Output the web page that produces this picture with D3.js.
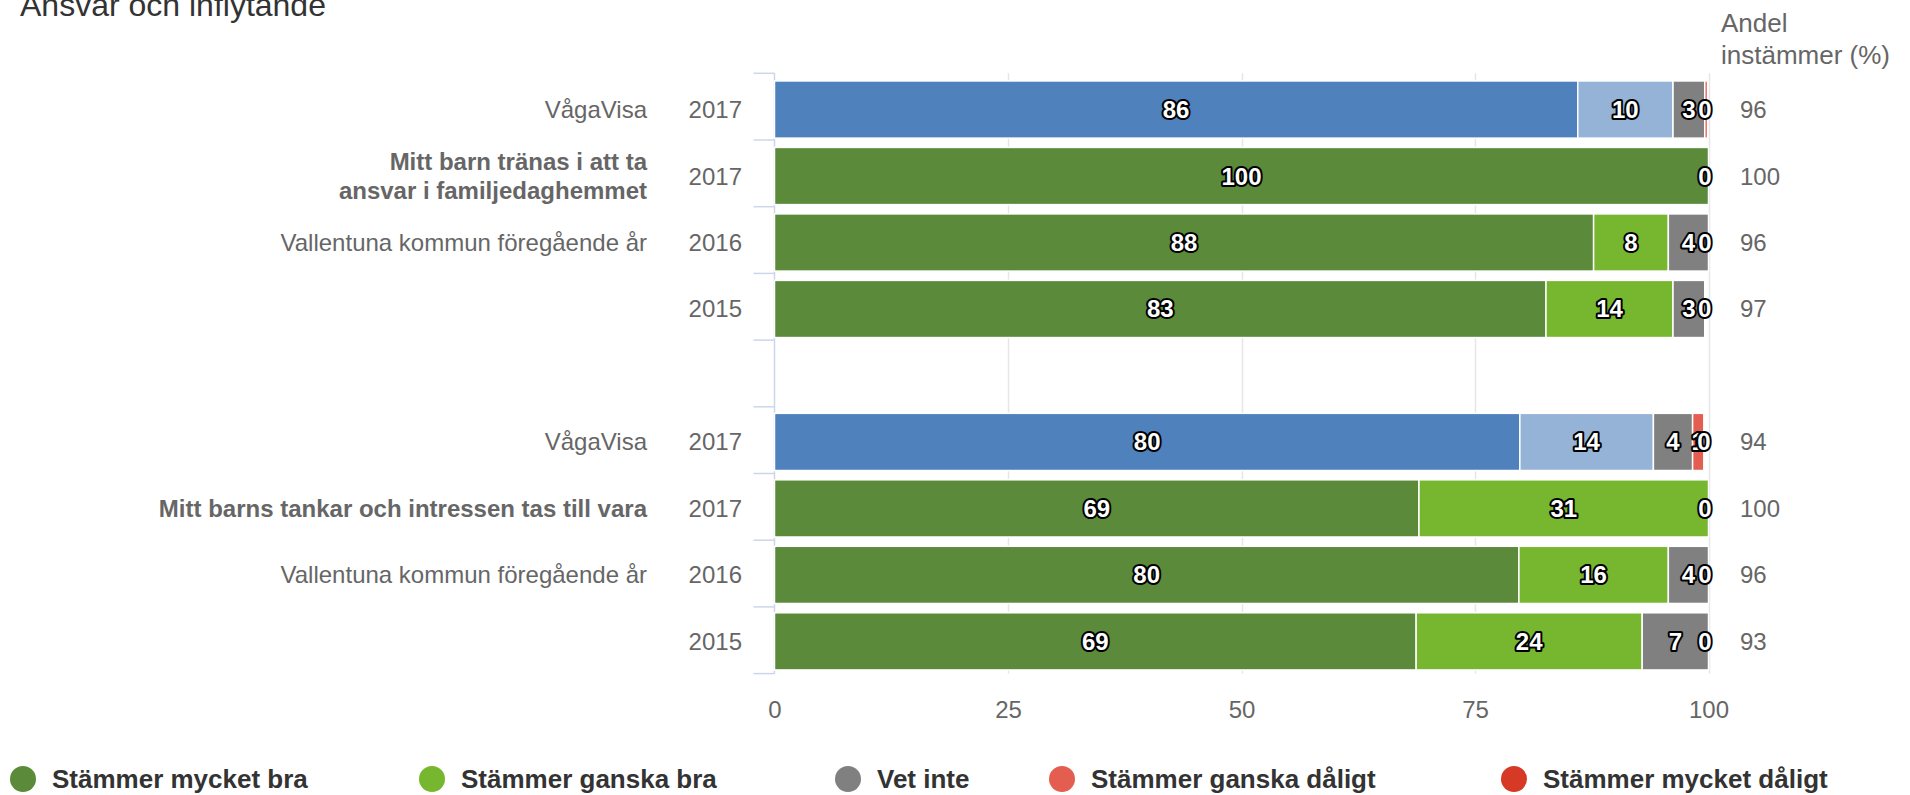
<!DOCTYPE html>
<html>
<head>
<meta charset="utf-8">
<script src="https://cdn.jsdelivr.net/npm/d3@7"></script>
<style>
  body { margin: 0; background: #fff; }
  svg { display: block; font-family: "Liberation Sans", Arial, Helvetica, sans-serif; }
</style>
</head>
<body>
<svg id="chart" width="1910" height="795"></svg>
<script>
// ---------------- DATA ----------------
const chartTitle = "Ansvar och inflytande";
const seriesNames = ["Stämmer mycket bra", "Stämmer ganska bra", "Vet inte", "Stämmer ganska dåligt", "Stämmer mycket dåligt"];
const seriesColors = ["#5a8a3a", "#76b72f", "#808080", "#e35d50", "#d63a26"];
const benchmarkColors = ["#4f81bd", "#95b3d7", "#808080", "#e35d50", "#d63a26"];

const rowLabels = [
  "VågaVisa",
  "Mitt barn tränas i att ta\nansvar i familjedaghemmet",
  "Vallentuna kommun föregående år",
  "",
  "VågaVisa",
  "Mitt barns tankar och intressen tas till vara",
  "Vallentuna kommun föregående år",
  ""
];
const rowYears = ["2017", "2017", "2016", "2015", "2017", "2017", "2016", "2015"];
const questionRow = [false, true, false, false, false, true, false, false];
const benchmarkRow = [true, false, false, false, true, false, false, false];

const mycketBra    = [86.0, 100, 87.7, 82.6, 79.8, 69.0, 79.7, 68.7];
const ganskaBra    = [10.2,   0,  8.0, 13.6, 14.3, 31.0, 16.0, 24.2];
const vetInte      = [ 3.4,   0,  4.3,  3.4,  4.2,    0,  4.3,  7.1];
const ganskaDaligt = [ 0.3,   0,    0,    0,  1.2,    0,    0,    0];
const mycketDaligt = [   0,   0,    0,    0,    0,    0,    0,    0];
const andelInstammer = [96, 100, 96, 97, 94, 100, 96, 93];

const xTickValues = [0, 25, 50, 75, 100];
const rightTitleLines = ["Andel", "instämmer (%)"];

// ---------------- LAYOUT ----------------
const svg = d3.select("#chart");
const plotLeft = 774.5, plotRight = 1708.5, plotTop = 73.3, plotBottom = 673.6;
const textGrey = "#666666";

const rows = rowYears.map((yr, i) => ({
  i,
  band: i < 4 ? i : i + 1,       // one empty band between the two questions
  label: rowLabels[i],
  year: yr,
  bold: questionRow[i],
  bench: benchmarkRow[i],
  share: andelInstammer[i],
  "0": mycketBra[i], "1": ganskaBra[i], "2": vetInte[i], "3": ganskaDaligt[i], "4": mycketDaligt[i]
}));

const x = d3.scaleLinear().domain([0, 100]).range([plotLeft, plotRight]);
const y = d3.scaleBand().domain(d3.range(9)).range([76.3, 674.6])
  .paddingInner(0.14).paddingOuter(0.07);
const tickStep = (plotBottom - plotTop) / 9;

// title
svg.append("text").attr("x", 20).attr("y", 16)
  .attr("font-size", 32).attr("fill", "#333333").text(chartTitle);

// gridlines
svg.append("g").selectAll("line").data(xTickValues.filter(d => d > 0)).join("line")
  .attr("x1", d => Math.round(x(d)) + 0.5).attr("x2", d => Math.round(x(d)) + 0.5)
  .attr("y1", plotTop).attr("y2", plotBottom)
  .attr("stroke", "#e6e6e6").attr("stroke-width", 1.5);

// y axis line + ticks at band boundaries
svg.append("line").attr("x1", plotLeft).attr("x2", plotLeft)
  .attr("y1", plotTop).attr("y2", plotBottom).attr("stroke", "#ccd6eb").attr("stroke-width", 1.5);
svg.append("g").selectAll("line").data(d3.range(10)).join("line")
  .attr("x1", plotLeft - 21).attr("x2", plotLeft)
  .attr("y1", k => plotTop + k * tickStep).attr("y2", k => plotTop + k * tickStep)
  .attr("stroke", "#ccd6eb").attr("stroke-width", 1.5);

// stacked bars
const keys = ["0", "1", "2", "3", "4"];
const stacked = d3.stack().keys(keys)(rows);
const segs = [];
stacked.forEach((layer, s) => {
  layer.forEach(d => {
    segs.push({ s, row: d.data, x0: d[0], x1: d[1], v: d.data[keys[s]] });
  });
});

svg.append("g").selectAll("rect").data(segs.filter(d => d.v > 0)).join("rect")
  .attr("x", d => x(d.x0))
  .attr("width", d => x(d.x1) - x(d.x0))
  .attr("y", d => y(d.row.band))
  .attr("height", y.bandwidth())
  .attr("fill", d => (d.row.bench ? benchmarkColors : seriesColors)[d.s])
  .attr("stroke", "#ffffff").attr("stroke-width", 1.5);

// data labels
const labelData = [];
rows.forEach(r => {
  const rowSegs = segs.filter(d => d.row === r);
  rowSegs.forEach(d => {
    const txt = String(Math.round(d.v));
    const cx = Math.min(x((d.x0 + d.x1) / 2), plotRight - 3.5);
    const dup = labelData.some(l => l.row === r && l.txt === txt && Math.abs(l.cx - cx) < 1.5);
    if (!dup) labelData.push({ row: r, txt, cx });
  });
});
svg.append("g").selectAll("text").data(labelData).join("text")
  .attr("x", d => d.cx)
  .attr("y", d => y(d.row.band) + y.bandwidth() / 2 + 8.5)
  .attr("text-anchor", "middle")
  .attr("font-size", 24).attr("font-weight", "bold")
  .attr("fill", "#ffffff").attr("stroke", "#000000").attr("stroke-width", 4)
  .attr("stroke-linejoin", "round").attr("paint-order", "stroke")
  .text(d => d.txt);

// left labels
const leftG = svg.append("g");
rows.forEach(r => {
  const cy = y(r.band) + y.bandwidth() / 2;
  const lines = r.label ? r.label.split("\n") : [];
  const lh = 29;
  const t = leftG.append("text")
    .attr("text-anchor", "end").attr("font-size", 24)
    .attr("font-weight", r.bold ? "bold" : "normal")
    .attr("fill", textGrey);
  lines.forEach((ln, k) => {
    t.append("tspan").attr("x", 647)
      .attr("y", cy + 8.5 + (k - (lines.length - 1) / 2) * lh)
      .text(ln);
  });
  leftG.append("text").attr("x", 742).attr("y", cy + 8.5)
    .attr("text-anchor", "end").attr("font-size", 24).attr("fill", textGrey)
    .text(r.year);
  // right share labels
  leftG.append("text").attr("x", 1740).attr("y", cy + 8.5)
    .attr("font-size", 24).attr("fill", textGrey).text(r.share);
});

// right title
svg.append("g").selectAll("text").data(rightTitleLines).join("text")
  .attr("x", 1721).attr("y", (d, k) => 32 + k * 31.5)
  .attr("font-size", 26).attr("fill", textGrey).text(d => d);

// x axis labels
const xAxis = d3.axisBottom(x).tickValues(xTickValues).tickSize(0).tickPadding(0);
const xg = svg.append("g").attr("transform", `translate(0, 718)`).call(xAxis);
xg.select(".domain").remove();
xg.selectAll("text").attr("font-size", 24).attr("fill", textGrey)
  .attr("font-family", "Liberation Sans, Arial, sans-serif").attr("dy", "0");

// legend
const legendX = [23, 432, 848, 1062, 1514];
const lg = svg.append("g").selectAll("g").data(seriesNames).join("g")
  .attr("transform", (d, k) => `translate(${legendX[k]}, 779)`);
lg.append("circle").attr("r", 13).attr("fill", (d, k) => seriesColors[k]);
lg.append("text").attr("x", 29).attr("y", 9.3)
  .attr("font-size", 26).attr("font-weight", "bold").attr("fill", "#333333")
  .text(d => d);
</script>
</body>
</html>
